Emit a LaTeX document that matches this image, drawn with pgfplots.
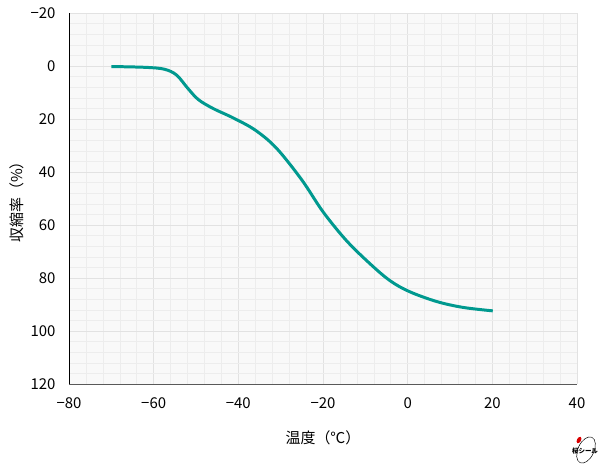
\documentclass[border=0pt]{standalone}
\usepackage{fontspec}
\setmainfont{Noto Sans CJK JP}
\usepackage{pgfplots}
\pgfplotsset{compat=1.18}
\definecolor{curvecol}{HTML}{00998F}
\definecolor{bgcol}{HTML}{F9F9F9}
\definecolor{gridmaj}{HTML}{E2E2E2}
\definecolor{gridmin}{HTML}{EDEDED}
\newcommand{\labfont}{\fontsize{15}{17}\selectfont}
\begin{document}
\begin{tikzpicture}[font=\labfont]
\useasboundingbox (-69bp,-84bp) rectangle (531bp,384bp);
\begin{axis}[
    at={(0,0)}, anchor=south west,
    scale only axis,
    width=508bp, height=371bp,
    xmin=-80, xmax=40,
    ymin=-20, ymax=120,
    y dir=reverse,
    xtick={-80,-60,...,40},
    xticklabels={−80,−60,−40,−20,0,20,40},
    ytick={-20,0,...,120},
    yticklabels={−20,0,20,40,60,80,100,120},
    minor x tick num=4,
    minor y tick num=4,
    grid=both,
    major grid style={gridmaj, line width=0.8pt},
    minor grid style={gridmin, line width=0.6pt},
    tick style={draw=none},
    axis line style={draw=none},
    axis background/.style={fill=bgcol},
    tick label style={font=\labfont},
    label style={font=\labfont},
    xticklabel style={yshift=-10bp},
    yticklabel style={xshift=-10bp},
    xlabel={温度（℃）},
    ylabel={収縮率（\%）},
    xlabel style={yshift=-15bp},
]
\addplot[curvecol, line width=3pt, smooth, tension=0.55] coordinates {
    (-70, 0.2)
    (-62, 0.5)
    (-57.5, 1.2)
    (-54.6, 3.4)
    (-52, 8.3)
    (-49.5, 12.6)
    (-46, 16.0)
    (-41.2, 19.6)
    (-36, 24.2)
    (-31, 31.0)
    (-25, 43.0)
    (-20, 55.0)
    (-14.4, 66.0)
    (-8.5, 75.2)
    (-4, 81.2)
    (0.5, 85.2)
    (6.9, 88.9)
    (13.1, 91.1)
    (20.1, 92.4)
};
\end{axis}
\draw[black, line width=0.8pt] (0,0) -- (0,371bp);
\draw[black!65, line width=0.8pt] (0,0) -- (508bp,0);
% logo
\draw[black, line width=0.5pt] (517bp,-66bp) ellipse[x radius=8bp, y radius=14bp, rotate=-25];
\fill[red!85!black] (510bp,-56bp) ellipse[x radius=2bp, y radius=3.5bp, rotate=-30];
\node[font=\fontsize{6.5}{7}\selectfont\bfseries, inner sep=0pt] at (516bp,-67bp) {桜シール};
\end{tikzpicture}
\end{document}
